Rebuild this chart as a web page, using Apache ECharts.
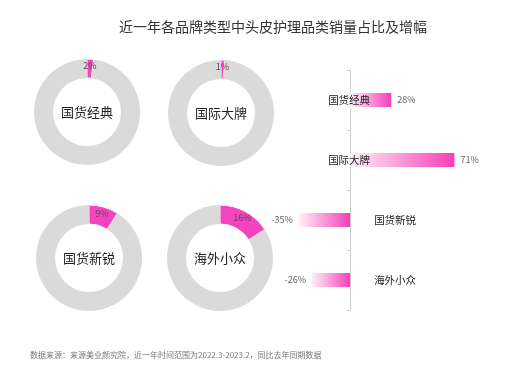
<!DOCTYPE html>
<html><head><meta charset="utf-8">
<script src="https://cdn.jsdelivr.net/npm/echarts@6/dist/echarts.min.js"></script>
<style>html,body{margin:0;padding:0;background:#fff}#c{width:515px;height:373px}</style>
</head><body><div id="c"></div>
<script>
const titleText = '近一年各品牌类型中头皮护理品类销量占比及增幅';
const sourceText = '数据来源：来源美业颜究院，近一年时间范围为2022.3-2023.2，同比去年同期数据';
const categories = ['国货经典', '国际大牌', '国货新锐', '海外小众'];
const shareValues = [2, 1, 9, 16];      // 销量占比 %
const growthValues = [28, 71, -35, -26]; // 增幅 %

const FONT = '"Noto Sans CJK SC", sans-serif';
const PINK = '#f445bf';
const GRAY = '#dadada';
const centers = [[87, 112], [221, 113], [89, 258], [220, 258]];

const pieSeries = categories.map((name, i) => ({
  type: 'pie',
  center: centers[i],
  radius: [34, 53],
  startAngle: 90,
  clockwise: true,
  silent: true,
  animation: false,
  data: [
    { name: name + '占比', value: shareValues[i],
      itemStyle: { color: PINK, borderColor: '#fff', borderWidth: 1 },
      label: { show: true, position: 'inside', formatter: '{c}%', color: '#6b3a5e', fontSize: 9, fontFamily: FONT } },
    { name: name, value: 100 - shareValues[i],
      itemStyle: { color: GRAY },
      label: { show: true, position: 'center', formatter: name, color: '#222', fontSize: 13, fontFamily: FONT } }
  ],
  labelLine: { show: false }
}));

const grad = new echarts.graphic.LinearGradient(0, 0, 1, 0, [
  { offset: 0, color: '#fff0f8' },
  { offset: 1, color: '#f53fb8' }
]);

const barData = growthValues.map((v) => ({
  value: v,
  itemStyle: { color: grad },
  label: {
    show: true,
    position: v >= 0 ? 'right' : 'left',
    distance: 6,
    formatter: '{c}%',
    color: '#666', fontSize: 9, fontFamily: FONT
  }
}));

const nameData = growthValues.map((v, i) => ({
  value: v,
  label: v >= 0
    ? { show: true, position: [-22, '50%'], align: 'left', verticalAlign: 'middle', formatter: categories[i], color: '#222', fontSize: 10.5, fontFamily: FONT }
    : { show: true, position: 'right', distance: 24, formatter: categories[i], color: '#222', fontSize: 10.5, fontFamily: FONT }
}));

const option = {
  backgroundColor: '#fff',
  animation: false,
  title: [
    { text: titleText, left: 114, top: 15, textStyle: { fontSize: 14, fontWeight: 'normal', color: '#333', fontFamily: FONT } },
    { text: sourceText, left: 25, top: 346, textStyle: { fontSize: 8, fontWeight: 'normal', color: '#777', fontFamily: FONT } }
  ],
  grid: { left: 262, right: 18, top: 70, height: 240 },
  xAxis: { type: 'value', min: -60, max: 100, show: false },
  yAxis: {
    type: 'category', data: categories, inverse: true,
    axisLine: { show: true, onZero: true, lineStyle: { color: '#cfcfcf' } },
    axisTick: { show: true, length: 3, lineStyle: { color: '#cfcfcf' } },
    axisLabel: { show: false },
    splitLine: { show: false }
  },
  series: [
    ...pieSeries,
    { type: 'bar', data: barData, barWidth: 14, silent: true },
    { type: 'bar', data: nameData, barWidth: 14, barGap: '-100%', silent: true, itemStyle: { color: 'rgba(0,0,0,0)' }, z: 5 }
  ]
};

const chart = echarts.init(document.getElementById('c'), null, { renderer: 'canvas' });
chart.setOption(option);
</script></body></html>
